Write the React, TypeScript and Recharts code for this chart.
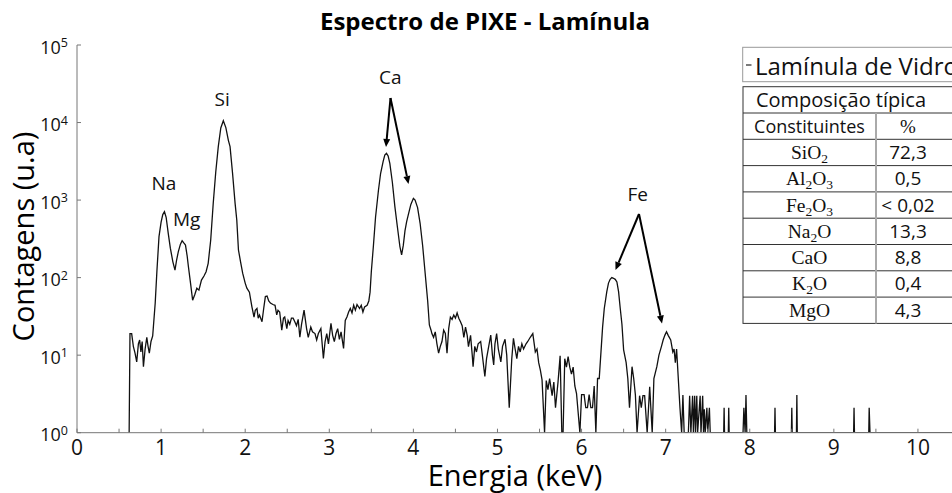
import { LineChart, Line, XAxis, YAxis } from 'recharts'

const FONT = '"Open Sans", sans-serif'
const SERIF = '"Liberation Serif", "DejaVu Serif", serif'
const AXIS = '#777'

const LOW_NOISE: [number, number][] = [
  [0.62, 1], [0.63, 19], [0.65, 19], [0.67, 13], [0.69, 10.6], [0.71, 8.2], [0.73, 14],
  [0.745, 15.7], [0.76, 11], [0.775, 15], [0.79, 7.1], [0.81, 12], [0.83, 17], [0.845, 13],
  [0.86, 10.6], [0.88, 15], [0.9, 17.7],
]

const NA_MG: [number, number][] = [
  [0.93, 47], [0.95, 120], [0.975, 338], [1.0, 520], [1.02, 650], [1.04, 708], [1.06, 600],
  [1.085, 372], [1.11, 240], [1.14, 160], [1.165, 125], [1.185, 170], [1.205, 216], [1.23, 270],
  [1.25, 299], [1.27, 280], [1.29, 263], [1.31, 190], [1.325, 138], [1.35, 85], [1.375, 51],
  [1.4, 60], [1.425, 73], [1.45, 69], [1.48, 93], [1.51, 105], [1.535, 119], [1.56, 153],
]

const SI_PEAK: [number, number][] = [
  [1.59, 305], [1.62, 908], [1.65, 2300], [1.68, 4890], [1.71, 8500], [1.74, 10570],
  [1.77, 8600], [1.8, 5900], [1.82, 4890], [1.85, 2200], [1.88, 908], [1.9, 553], [1.92, 227],
  [1.945, 160], [1.97, 114], [2.0, 85], [2.02, 73], [2.05, 65],
]

const BG_LOW: [number, number][] = [
  [2.08, 42], [2.105, 31], [2.12, 38], [2.14, 40], [2.155, 30], [2.17, 33], [2.2, 27], [2.22, 40],
  [2.24, 57], [2.26, 58], [2.28, 50], [2.3, 47], [2.33, 45], [2.355, 44], [2.375, 33], [2.39, 38],
  [2.41, 36], [2.435, 21], [2.455, 30], [2.47, 31], [2.495, 22], [2.51, 28], [2.53, 25], [2.55, 30],
  [2.57, 30], [2.59, 27], [2.61, 24], [2.63, 29], [2.65, 17], [2.67, 25], [2.7, 38], [2.73, 22],
  [2.75, 17], [2.78, 23], [2.8, 20], [2.83, 19], [2.85, 15.7], [2.87, 19], [2.9, 22], [2.93, 9.1],
  [2.95, 15], [2.97, 19], [2.99, 14], [3.02, 25.7], [3.04, 18], [3.06, 15], [3.08, 19], [3.1, 22],
  [3.12, 16], [3.14, 20], [3.17, 12.2], [3.19, 28], [3.21, 31], [3.23, 36], [3.25, 40], [3.27, 35],
  [3.29, 44], [3.31, 38], [3.33, 45], [3.36, 40], [3.38, 44], [3.4, 36], [3.42, 42], [3.45, 44],
  [3.47, 50],
]

const CA_PEAKS: [number, number][] = [
  [3.485, 65], [3.5, 120], [3.525, 260], [3.55, 600], [3.585, 1350], [3.61, 2200], [3.64, 3126],
  [3.66, 3800], [3.68, 4010], [3.7, 3700], [3.72, 2980], [3.75, 1700], [3.78, 822], [3.81, 450],
  [3.84, 250], [3.86, 196], [3.88, 260], [3.9, 400], [3.92, 526], [3.94, 650], [3.97, 880],
  [4.0, 1054], [4.02, 1000], [4.05, 800], [4.08, 502], [4.11, 260], [4.14, 114], [4.17, 50],
  [4.19, 24.5],
]

const BG_MID: [number, number][] = [
  [4.21, 21], [4.22, 19], [4.24, 17], [4.26, 20], [4.28, 14], [4.3, 10.6], [4.32, 13], [4.34, 15],
  [4.36, 21], [4.38, 19], [4.4, 10.6], [4.42, 22], [4.44, 31], [4.46, 29], [4.48, 33], [4.5, 30],
  [4.52, 35], [4.54, 30], [4.56, 27], [4.58, 24], [4.6, 17], [4.62, 23], [4.64, 18], [4.655, 12.9],
  [4.68, 18], [4.7, 10], [4.71, 7.1], [4.73, 13], [4.75, 11], [4.77, 14], [4.8, 15], [4.82, 10],
  [4.85, 5.3], [4.87, 9], [4.89, 12], [4.92, 18.2], [4.94, 10], [4.955, 7.5], [4.97, 14], [4.99, 19],
  [5.01, 12], [5.04, 8.2], [5.06, 13], [5.09, 16], [5.11, 10], [5.14, 2.1], [5.17, 9], [5.19, 16.5],
  [5.21, 12], [5.23, 9], [5.25, 13], [5.27, 11], [5.29, 14], [5.31, 12], [5.34, 14], [5.36, 15],
  [5.39, 17], [5.42, 19], [5.45, 11], [5.47, 12], [5.49, 8], [5.51, 6.4], [5.53, 4.8], [5.56, 1],
  [5.58, 4.7], [5.6, 3.6], [5.62, 5], [5.65, 3], [5.67, 4.5], [5.69, 2.1], [5.72, 4.5], [5.745, 9.8],
  [5.765, 1], [5.78, 1], [5.8, 9], [5.82, 7], [5.84, 9.6], [5.86, 7], [5.88, 5.7], [5.9, 7],
  [5.92, 4], [5.94, 3.2], [5.98, 1], [6.0, 3.1], [6.03, 3.1], [6.05, 2.1], [6.07, 2.1], [6.09, 3.1],
  [6.11, 2.1], [6.13, 2.1], [6.15, 4], [6.17, 1], [6.19, 5], [6.21, 5],
]

const FE_PEAKS: [number, number][] = [
  [6.25, 23], [6.27, 40], [6.3, 66], [6.32, 85], [6.34, 95], [6.36, 100], [6.38, 98], [6.4, 95],
  [6.42, 88], [6.44, 66], [6.46, 40], [6.48, 25], [6.5, 11.7], [6.53, 8], [6.55, 5], [6.57, 2.1],
  [6.6, 7.1], [6.62, 5], [6.64, 3.06], [6.66, 1], [6.69, 3], [6.71, 2.1], [6.73, 3], [6.75, 3],
  [6.78, 1], [6.81, 3.9], [6.84, 1], [6.86, 5], [6.895, 7.1], [6.92, 10], [6.95, 13], [6.97, 15.7],
  [6.99, 18], [7.01, 20], [7.03, 18], [7.06, 15.7], [7.085, 11], [7.1, 12], [7.115, 8], [7.13, 12],
  [7.17, 2.1], [7.19, 1],
]

const HIGH_TAIL: [number, number][] = [
  [7.205, 3.06], [7.22, 1], [7.27, 1], [7.285, 3], [7.3, 1], [7.32, 3], [7.33, 1], [7.345, 3],
  [7.355, 1], [7.37, 3], [7.38, 1], [7.41, 3], [7.42, 1], [7.44, 3], [7.45, 1], [7.46, 2], [7.47, 1],
  [7.49, 2.1], [7.5, 1], [7.52, 2.1], [7.53, 1], [7.69, 1], [7.695, 2.1], [7.7, 1], [7.745, 1],
  [7.75, 2.1], [7.755, 1], [7.92, 1], [7.93, 2.1], [7.945, 1], [7.955, 3.06], [7.965, 1],
  [8.295, 1], [8.3, 2.1], [8.305, 1], [8.495, 1], [8.5, 2.1], [8.505, 1], [8.555, 1], [8.56, 3.06],
  [8.565, 1], [9.235, 1], [9.24, 2.1], [9.245, 1], [9.415, 1], [9.42, 2.1], [9.43, 1], [10.45, 1],
]

const spectrum = [
  ...LOW_NOISE, ...NA_MG, ...SI_PEAK, ...BG_LOW, ...CA_PEAKS, ...BG_MID, ...FE_PEAKS, ...HIGH_TAIL,
].map(([e, c]) => ({ e, c }))

const X_TICKS = [0, 0.5, 1, 1.5, 2, 2.5, 3, 3.5, 4, 4.5, 5, 5.5, 6, 6.5, 7, 7.5, 8, 8.5, 9, 9.5, 10, 10.5]
const Y_TICKS = [1, 10, 100, 1000, 10000, 100000]

// tabela de composição: [símbolo, índice] por parte da fórmula
const CONSTITUENTS: [string, string][][] = [
  [['Si', ''], ['O', '2']],
  [['Al', '2'], ['O', '3']],
  [['Fe', '2'], ['O', '3']],
  [['Na', '2'], ['O', '']],
  [['Ca', ''], ['O', '']],
  [['K', '2'], ['O', '']],
  [['Mg', ''], ['O', '']],
]
const PERCENT = ['72,3', '0,5', '< 0,02', '13,3', '8,8', '0,4', '4,3']

const BottomTick = ({ x, y, payload }: any) => {
  const v = payload.value
  return (
    <g>
      <line x1={x} x2={x} y1={y} y2={y - 4} stroke={AXIS} />
      {Number.isInteger(v) && v <= 10 && (
        <text x={x} y={y + 22} textAnchor="middle" fontSize={21} fill="#111" fontFamily={FONT}>{v}</text>
      )}
    </g>
  )
}

const TopTick = ({ x, y }: any) => <line x1={x} x2={x} y1={y} y2={y + 4} stroke={AXIS} />

const LeftTick = ({ x, y, payload }: any) => {
  const exp = Math.round(Math.log10(payload.value))
  return (
    <g>
      <line x1={x} x2={x + 4} y1={y} y2={y} stroke={AXIS} />
      <text x={x - 9} y={y + 8.5} textAnchor="end" fontSize={18} fill="#111" fontFamily={FONT}>
        10<tspan dy={-6.5} fontSize={12.5}>{exp}</tspan>
      </text>
    </g>
  )
}

const Arrow = ({ x1, y1, x2, y2 }: { x1: number; y1: number; x2: number; y2: number }) => {
  const a = Math.atan2(y2 - y1, x2 - x1)
  const bx = x2 - 8 * Math.cos(a)
  const by = y2 - 8 * Math.sin(a)
  const px = -Math.sin(a) * 3.5
  const py = Math.cos(a) * 3.5
  return (
    <g>
      <line x1={x1} y1={y1} x2={bx} y2={by} stroke="#000" strokeWidth={2} />
      <polygon points={`${x2},${y2} ${bx + px},${by + py} ${bx - px},${by - py}`} fill="#000" />
    </g>
  )
}

const ROW_TOP = 86.7
const ROW_H = 26.3
const T_LEFT = 743
const T_RIGHT = 960
const COL = 876

export default function App() {
  const rowsN = 2 + CONSTITUENTS.length
  return (
    <div style={{ position: 'absolute', left: 0, top: 0, width: 952, height: 493, overflow: 'hidden', background: '#fff' }}>
      <LineChart width={970} height={493} data={spectrum} margin={{ top: 45, right: 10, bottom: 0, left: 0 }}>
        <XAxis
          dataKey="e" type="number" domain={[0, 10.5]} ticks={X_TICKS} interval={0}
          height={60.3} tickSize={0} tickMargin={0} tickLine={false}
          axisLine={{ stroke: AXIS }} tick={<BottomTick />}
        />
        <XAxis
          xAxisId="top" orientation="top" dataKey="e" type="number" domain={[0, 10.5]} ticks={X_TICKS}
          interval={0} height={0} tickSize={0} tickMargin={0} tickLine={false}
          axisLine={{ stroke: AXIS }} tick={<TopTick />}
        />
        <YAxis
          scale="log" domain={[1, 100000]} ticks={Y_TICKS} interval={0} allowDataOverflow
          width={77} tickSize={0} tickMargin={0} tickLine={false}
          axisLine={{ stroke: AXIS }} tick={<LeftTick />}
        />
        <Line type="linear" dataKey="c" stroke="#111" strokeWidth={1.3} dot={false} isAnimationActive={false} />
      </LineChart>

      <svg width={952} height={493} style={{ position: 'absolute', left: 0, top: 0, pointerEvents: 'none' }}>
        <text x={485} y={30} textAnchor="middle" fontSize={24} fontWeight={700} fontFamily={FONT} fill="#000">
          Espectro de PIXE - Lamínula
        </text>
        <text x={515} y={486} textAnchor="middle" fontSize={29} fontFamily={FONT} fill="#000">Energia (keV)</text>
        <text transform="translate(34,236.5) rotate(-90)" textAnchor="middle" fontSize={29} fontFamily={FONT} fill="#000">
          Contagens (u.a)
        </text>

        <g fontFamily={FONT} fontSize={19} fill="#111">
          <text x={151.5} y={190}>Na</text>
          <text x={173} y={225.5}>Mg</text>
          <text x={214.5} y={106}>Si</text>
          <text x={379} y={84}>Ca</text>
          <text x={627.5} y={200.5}>Fe</text>
        </g>
        <Arrow x1={390.5} y1={98} x2={386} y2={147} />
        <Arrow x1={390.5} y1={98} x2={408.5} y2={184} />
        <Arrow x1={639} y1={214} x2={615.5} y2={270} />
        <Arrow x1={639} y1={214} x2={662} y2={323.5} />

        {/* legenda */}
        <rect x={742.7} y={47.3} width={230} height={34.4} fill="#fff" stroke="#999" />
        <line x1={746} x2={751.5} y1={65} y2={65} stroke="#333" strokeWidth={1.3} />
        <text x={755} y={74.5} fontSize={24} fontFamily={FONT} fill="#111">Lamínula de Vidro</text>

        {/* tabela */}
        <rect x={T_LEFT} y={ROW_TOP} width={T_RIGHT - T_LEFT} height={rowsN * ROW_H} fill="#fff" stroke="#333" />
        {Array.from({ length: rowsN - 1 }, (_, i) => (
          <line key={i} x1={T_LEFT} x2={T_RIGHT} y1={ROW_TOP + (i + 1) * ROW_H} y2={ROW_TOP + (i + 1) * ROW_H} stroke="#333" />
        ))}
        <line x1={COL} x2={COL} y1={ROW_TOP + ROW_H} y2={ROW_TOP + rowsN * ROW_H} stroke="#aaa" strokeWidth={2} />
        <text x={841} y={ROW_TOP + ROW_H / 2 + 7} textAnchor="middle" fontSize={20} fontFamily={FONT} fill="#111">
          Composição típica
        </text>
        <text x={809.5} y={ROW_TOP + ROW_H * 1.5 + 7} textAnchor="middle" fontSize={18} fontFamily={FONT} fill="#111">
          Constituintes
        </text>
        <text x={908} y={ROW_TOP + ROW_H * 1.5 + 6.5} textAnchor="middle" fontSize={19} fontFamily={SERIF} fill="#111">%</text>
        {CONSTITUENTS.map((parts, i) => {
          const yb = ROW_TOP + ROW_H * (i + 2.5) + 6.5
          return (
            <g key={i}>
              <text x={809.5} y={yb} textAnchor="middle" fontSize={19.5} fontFamily={SERIF} fill="#111">
                {parts.map(([sym, sub], j) => {
                  const prevSub = j > 0 && parts[j - 1][1] !== ''
                  return [
                    <tspan key={`s${j}`} dy={prevSub ? -4 : 0}>{sym}</tspan>,
                    sub ? <tspan key={`b${j}`} dy={4} fontSize={13.5}>{sub}</tspan> : null,
                  ]
                })}
              </text>
              <text x={908} y={yb} textAnchor="middle" fontSize={19} fontFamily={FONT} fill="#111">{PERCENT[i]}</text>
            </g>
          )
        })}
      </svg>
    </div>
  )
}
